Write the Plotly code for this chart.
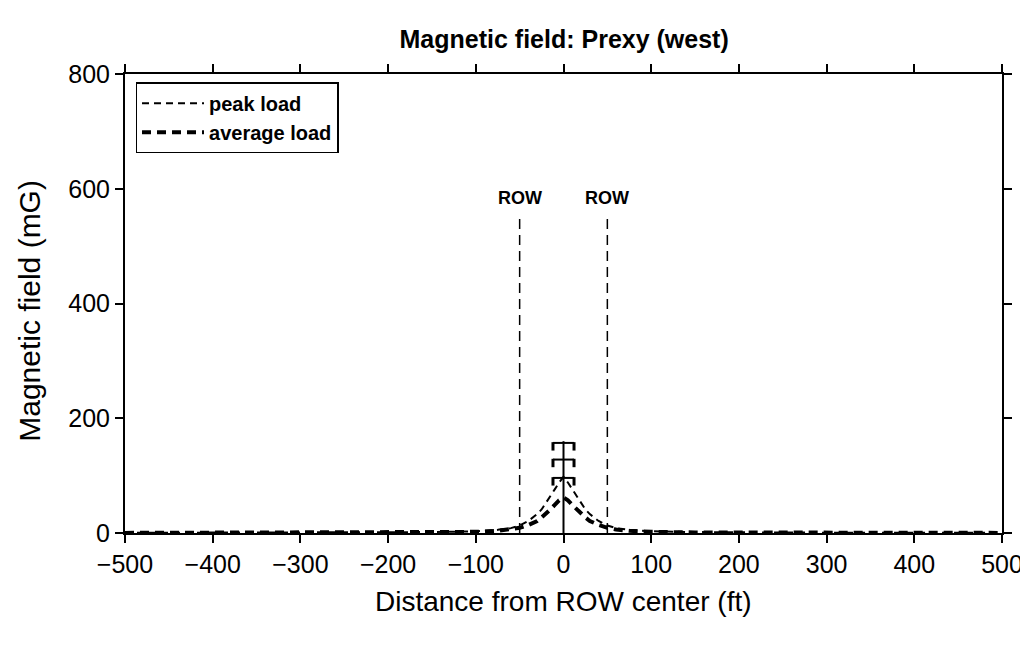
import plotly.graph_objects as go

# Distance from ROW center (ft)
distance = [-500, -400, -300, -200, -150, -100, -75, -60, -50, -40, -30, -25, -20, -15, -10, -5, 0,
            5, 10, 15, 20, 25, 30, 40, 50, 60, 75, 100, 150, 200, 300, 400, 500]
peak_load = [0.3, 0.4, 0.6, 1.0, 1.6, 3.0, 5.5, 8.5, 13, 21, 33, 41, 52, 64, 76, 88, 98,
             88, 76, 64, 52, 41, 33, 21, 13, 8.5, 5.5, 3.0, 1.6, 1.0, 0.6, 0.4, 0.3]
average_load = [0.2, 0.3, 0.4, 0.7, 1.0, 2.0, 3.8, 6.0, 9, 14, 21, 27, 33, 41, 49, 57, 62,
                57, 49, 41, 33, 27, 21, 14, 9, 6.0, 3.8, 2.0, 1.0, 0.7, 0.4, 0.3, 0.2]

row_edges = [-50, 50]
row_line_top = 556
row_label_y = 563

# transmission tower pictogram at center
tower_x = [0, 0, None, -12, 12, None, -12, 12, None, -12, 12]
tower_y = [0, 160, None, 157, 157, None, 128, 128, None, 96, 96]
insulator_x = [-12, 12, -12, 12, -12, 12]
insulator_y = [151, 151, 122, 122, 90, 90]

FONT = "Liberation Sans, Arial, Helvetica"

fig = go.Figure()
fig.add_trace(go.Scatter(x=distance, y=peak_load, mode="lines", name="<b>peak load</b>",
                         line=dict(color="black", width=2, dash="7px,5px")))
fig.add_trace(go.Scatter(x=distance, y=average_load, mode="lines", name="<b>average load</b>",
                         line=dict(color="black", width=4, dash="9px,6px")))
fig.add_trace(go.Scatter(x=tower_x, y=tower_y, mode="lines", showlegend=False,
                         line=dict(color="black", width=2), hoverinfo="skip"))
fig.add_trace(go.Scatter(x=insulator_x, y=insulator_y, mode="markers", showlegend=False,
                         marker=dict(color="black", size=6, symbol="line-ns",
                                     line=dict(color="black", width=3)), hoverinfo="skip"))
for xe in row_edges:
    fig.add_trace(go.Scatter(x=[xe, xe], y=[0, row_line_top], mode="lines", showlegend=False,
                             line=dict(color="black", width=1.5, dash="10px,6px"), hoverinfo="skip"))
    fig.add_annotation(x=xe, y=row_label_y, text="<b>ROW</b>", showarrow=False,
                       yanchor="bottom", font=dict(size=18, color="black", family=FONT))

axis_common = dict(showline=True, linecolor="black", linewidth=2, mirror="allticks",
                   ticks="outside", ticklen=8, tickwidth=2, tickcolor="black",
                   showgrid=False, zeroline=False, automargin=False,
                   tickfont=dict(size=25, color="black", family=FONT))

fig.update_layout(
    width=1028, height=646,
    paper_bgcolor="white", plot_bgcolor="white",
    margin=dict(l=117, r=34, t=66, b=121),
    title=dict(text="<b>Magnetic field: Prexy (west)</b>", x=0.541, xanchor="center",
               y=0.952, yanchor="middle",
               font=dict(size=25, color="black", family=FONT)),
    xaxis=dict(range=[-500, 500], tickvals=[-500, -400, -300, -200, -100, 0, 100, 200, 300, 400, 500],
               ticktext=["\u2212500", "\u2212400", "\u2212300", "\u2212200", "\u2212100", "0",
                         "100", "200", "300", "400", "500"],
               **axis_common),
    yaxis=dict(range=[0, 800], tickvals=[0, 200, 400, 600, 800], **axis_common),
    legend=dict(x=0.012, y=0.982, xanchor="left", yanchor="top",
                bgcolor="white", bordercolor="black", borderwidth=1.5,
                font=dict(size=20, color="black", family=FONT),
                tracegroupgap=0, itemwidth=62),
    showlegend=True,
)

# axis titles
fig.add_annotation(text="Distance from ROW center (ft)", xref="paper", yref="paper",
                   x=0.5, y=-0.15, xanchor="center", yanchor="middle", showarrow=False,
                   font=dict(size=28, color="black", family=FONT))
fig.add_annotation(text="Magnetic field (mG)", xref="paper", yref="paper",
                   x=-0.109, y=0.485, xanchor="center", yanchor="middle", showarrow=False,
                   textangle=-90, font=dict(size=30, color="black", family=FONT))

fig.write_html("out.html")
